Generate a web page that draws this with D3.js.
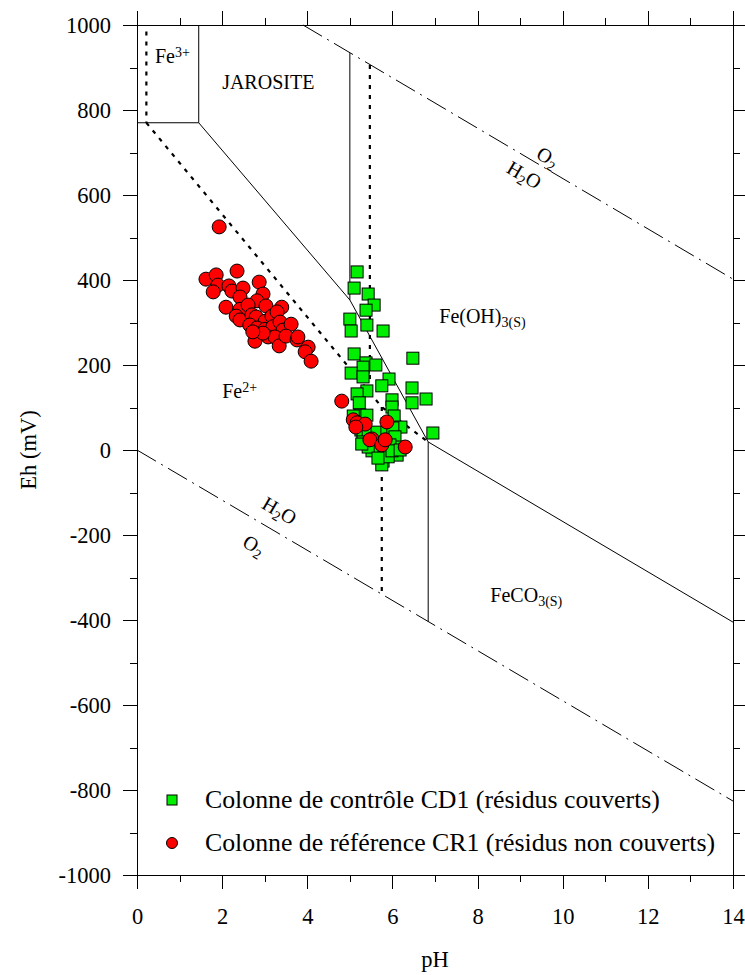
<!DOCTYPE html>
<html>
<meta charset="utf-8" />
<script src="https://cdn.jsdelivr.net/npm/d3@7"></script>
<style>
  html, body { margin: 0; padding: 0; background: #fff; }
  svg text { font-family: "Liberation Serif", "Times New Roman", serif; fill: #000; }
  .axis path, .axis line { stroke: #000; stroke-width: 1px; shape-rendering: crispEdges; }
  .axis text { font-size: 22.5px; }
</style>
<body>
<div id="chart"></div>
<script>
// ---- data ----
var xTicks = [0, 2, 4, 6, 8, 10, 12, 14];
var yTicks = [-1000, -800, -600, -400, -200, 0, 200, 400, 600, 800, 1000];

// water stability limits (dash-dot)
var waterUpper = [[3.9, 1000], [14, 402]];
var waterLower = [[0, 0], [14, -826]];

// solid boundaries
var solidLines = [
  [[0, 770], [1.45, 770], [1.45, 1000]],
  [[1.45, 770], [5.0, 353], [6.84, 19], [14, -405]],
  [[5.0, 934], [5.0, 353]],
  [[6.84, 19], [6.84, -404]]
];

// dotted boundaries
var dottedLines = [
  [[0.22, 985], [0.22, 770]],
  [[0.22, 770], [5.75, 101], [6.84, 19]],
  [[5.47, 906], [5.47, 135]],
  [[5.75, 101], [5.75, -340]]
];

// Colonne de contrôle CD1 (pH, Eh)
var cd1 = [
  [5.17, 419], [5.10, 381], [5.43, 367], [5.57, 341], [5.38, 329], [5.00, 308],
  [5.03, 280], [5.40, 294], [5.78, 280], [5.10, 226], [5.38, 205], [5.61, 200],
  [5.31, 195], [5.03, 181], [5.31, 172], [6.48, 216], [5.92, 167], [5.75, 151],
  [5.40, 139], [6.46, 146], [6.79, 120], [6.46, 111], [5.17, 132], [5.22, 111],
  [5.99, 118], [5.99, 101], [6.04, 80], [6.95, 40], [6.20, 54], [5.24, 82],
  [5.40, 82], [5.08, 80], [5.26, 47], [5.31, 35], [5.43, 40], [5.64, 42],
  [5.87, 42], [6.01, 52], [6.06, 31], [5.31, 19], [5.59, 5], [5.71, -7],
  [5.83, 0], [6.11, -12], [6.11, 7], [5.94, 12], [5.78, -26], [5.75, -35],
  [5.90, -16], [5.52, -2], [5.43, 7], [5.28, 14], [5.99, -2], [6.18, 0],
  [5.66, -19]
];

// Colonne de référence CR1 (pH, Eh)
var cr1 = [
  [1.93, 525], [1.62, 402], [1.86, 412], [2.35, 421], [1.90, 388], [1.79, 372],
  [2.16, 386], [2.23, 374], [2.49, 381], [2.42, 360], [2.87, 395], [2.96, 367],
  [2.82, 351], [2.09, 336], [2.42, 331], [2.61, 341], [3.03, 339], [3.40, 336],
  [2.33, 315], [2.42, 306], [2.70, 318], [2.80, 313], [3.01, 303], [3.17, 315],
  [3.29, 325], [2.65, 294], [2.82, 287], [3.01, 284], [3.19, 290], [3.36, 301],
  [3.43, 282], [3.62, 296], [2.77, 256], [3.08, 266], [3.24, 266], [3.34, 245],
  [3.50, 268], [3.76, 259], [3.78, 266], [4.02, 242], [3.95, 231], [4.09, 209],
  [2.96, 275], [2.72, 278],
  [4.81, 115], [5.08, 71], [5.17, 64], [5.36, 61], [5.14, 54], [5.87, 66],
  [5.52, 26], [5.47, 24], [5.75, 12], [5.83, 24], [6.30, 7]
];

var legendLabels = [
  'Colonne de contrôle CD1 (résidus couverts)',
  'Colonne de référence CR1 (résidus non couverts)'
];

// ---- chart ----
var W = 745, H = 975;
var margin = { top: 25, right: 12, bottom: 100, left: 137 };
var width = W - margin.left - margin.right,
    height = H - margin.top - margin.bottom;
var serif = '"Liberation Serif", "Times New Roman", serif';

var svg = d3.select('#chart').append('svg')
  .attr('width', W).attr('height', H);

var g = svg.append('g')
  .attr('transform', 'translate(' + margin.left + ',' + margin.top + ')');

var x = d3.scaleLinear().domain([0, 14]).range([0, width]);
var y = d3.scaleLinear().domain([-1000, 1000]).range([height, 0]);

var minorX = d3.range(0, 15, 1);
var minorY = d3.range(-1000, 1001, 100);
var fmt = function (d) { return String(d); };

// minor ticks
g.append('g').attr('class', 'axis').attr('transform', 'translate(0,' + height + ')')
  .call(d3.axisBottom(x).tickValues(minorX).tickSize(7).tickFormat(''));
g.append('g').attr('class', 'axis')
  .call(d3.axisTop(x).tickValues(minorX).tickSize(7).tickFormat(''));
g.append('g').attr('class', 'axis')
  .call(d3.axisLeft(y).tickValues(minorY).tickSize(7).tickFormat(''));
g.append('g').attr('class', 'axis').attr('transform', 'translate(' + width + ',0)')
  .call(d3.axisRight(y).tickValues(minorY).tickSize(7).tickFormat(''));

// major ticks
g.append('g').attr('class', 'axis').attr('transform', 'translate(0,' + height + ')')
  .call(d3.axisBottom(x).tickValues(xTicks).tickSize(14).tickSizeOuter(0).tickPadding(19).tickFormat(fmt));
g.append('g').attr('class', 'axis')
  .call(d3.axisTop(x).tickValues(xTicks).tickSize(14).tickSizeOuter(0).tickFormat(''));
g.append('g').attr('class', 'axis')
  .call(d3.axisLeft(y).tickValues(yTicks).tickSize(14).tickSizeOuter(0).tickPadding(12).tickFormat(fmt));
g.append('g').attr('class', 'axis').attr('transform', 'translate(' + width + ',0)')
  .call(d3.axisRight(y).tickValues(yTicks).tickSize(14).tickSizeOuter(0).tickFormat(''));

svg.selectAll('.axis text').style('font-family', serif);

// axis titles
svg.append('text').attr('x', margin.left + width / 2).attr('y', 967)
  .attr('text-anchor', 'middle').style('font-size', '22.5px').text('pH');
svg.append('text')
  .attr('transform', 'translate(36,' + (margin.top + height / 2) + ') rotate(-90)')
  .attr('text-anchor', 'middle').style('font-size', '22.5px').text('Eh (mV)');

var line = d3.line().x(function (d) { return x(d[0]); }).y(function (d) { return y(d[1]); });

g.selectAll('path.water').data([waterUpper, waterLower]).enter().append('path')
  .attr('class', 'water').attr('d', line)
  .attr('fill', 'none').attr('stroke', '#000').attr('stroke-width', 1)
  .attr('stroke-dasharray', '22,6,2,6');

g.selectAll('path.solid').data(solidLines).enter().append('path')
  .attr('class', 'solid').attr('d', line)
  .attr('fill', 'none').attr('stroke', '#000').attr('stroke-width', 1);

g.selectAll('path.dotted').data(dottedLines).enter().append('path')
  .attr('class', 'dotted').attr('d', line)
  .attr('fill', 'none').attr('stroke', '#000').attr('stroke-width', 2.2)
  .attr('stroke-dasharray', '4,6');

// region labels
function label(px, py, parts, size, angle) {
  var t = g.append('text')
    .attr('transform', 'translate(' + x(px) + ',' + y(py) + ')' + (angle ? ' rotate(' + angle + ')' : ''))
    .style('font-size', size + 'px');
  parts.forEach(function (p) {
    var s = t.append('tspan').text(p[0]);
    if (p[1] === 'sup') s.attr('baseline-shift', '40%').style('font-size', (size * 0.7) + 'px');
    if (p[1] === 'sub') s.attr('baseline-shift', '-30%').style('font-size', (size * 0.7) + 'px');
  });
}
var angUp = Math.atan2(y(waterUpper[1][1]) - y(waterUpper[0][1]), x(waterUpper[1][0]) - x(waterUpper[0][0])) * 180 / Math.PI;
var angLo = Math.atan2(y(waterLower[1][1]) - y(waterLower[0][1]), x(waterLower[1][0]) - x(waterLower[0][0])) * 180 / Math.PI;

label(0.42, 910, [['Fe'], ['3+', 'sup']], 20);
label(2.0, 850, [['JAROSITE']], 20);
label(7.1, 300, [['Fe(OH)'], ['3', 'sub'], ['(S)', 'sub']], 20);
label(2.0, 122, [['Fe'], ['2+', 'sup']], 20);
label(8.3, -358, [['FeCO'], ['3', 'sub'], ['(S)', 'sub']], 20);
label(9.35, 688, [['O'], ['2', 'sub']], 20, angUp);
label(8.65, 655, [['H'], ['2', 'sub'], ['O']], 20, angUp);
label(2.9, -135, [['H'], ['2', 'sub'], ['O']], 20, angLo);
label(2.45, -225, [['O'], ['2', 'sub']], 20, angLo);

// data markers
var sq = 12;
g.selectAll('rect.cd1').data(cd1).enter().append('rect')
  .attr('class', 'cd1')
  .attr('x', function (d) { return x(d[0]) - sq / 2; })
  .attr('y', function (d) { return y(d[1]) - sq / 2; })
  .attr('width', sq).attr('height', sq)
  .attr('fill', '#00ee00').attr('stroke', '#000').attr('stroke-width', 1);

g.selectAll('circle.cr1').data(cr1).enter().append('circle')
  .attr('class', 'cr1')
  .attr('cx', function (d) { return x(d[0]); })
  .attr('cy', function (d) { return y(d[1]); })
  .attr('r', 7)
  .attr('fill', '#ff0000').attr('stroke', '#000').attr('stroke-width', 1);

// legend
var leg = svg.append('g').attr('transform', 'translate(172,800)');
leg.append('rect').attr('x', -5).attr('y', -5).attr('width', 10).attr('height', 10)
  .attr('fill', '#00ee00').attr('stroke', '#000');
leg.append('circle').attr('cx', 0).attr('cy', 43).attr('r', 5.5)
  .attr('fill', '#ff0000').attr('stroke', '#000');
leg.selectAll('text.leg').data(legendLabels).enter().append('text')
  .attr('class', 'leg')
  .attr('x', 33).attr('y', function (d, i) { return i * 43 + 8; })
  .style('font-size', '25.8px')
  .text(function (d) { return d; });
</script>
</body>
</html>
